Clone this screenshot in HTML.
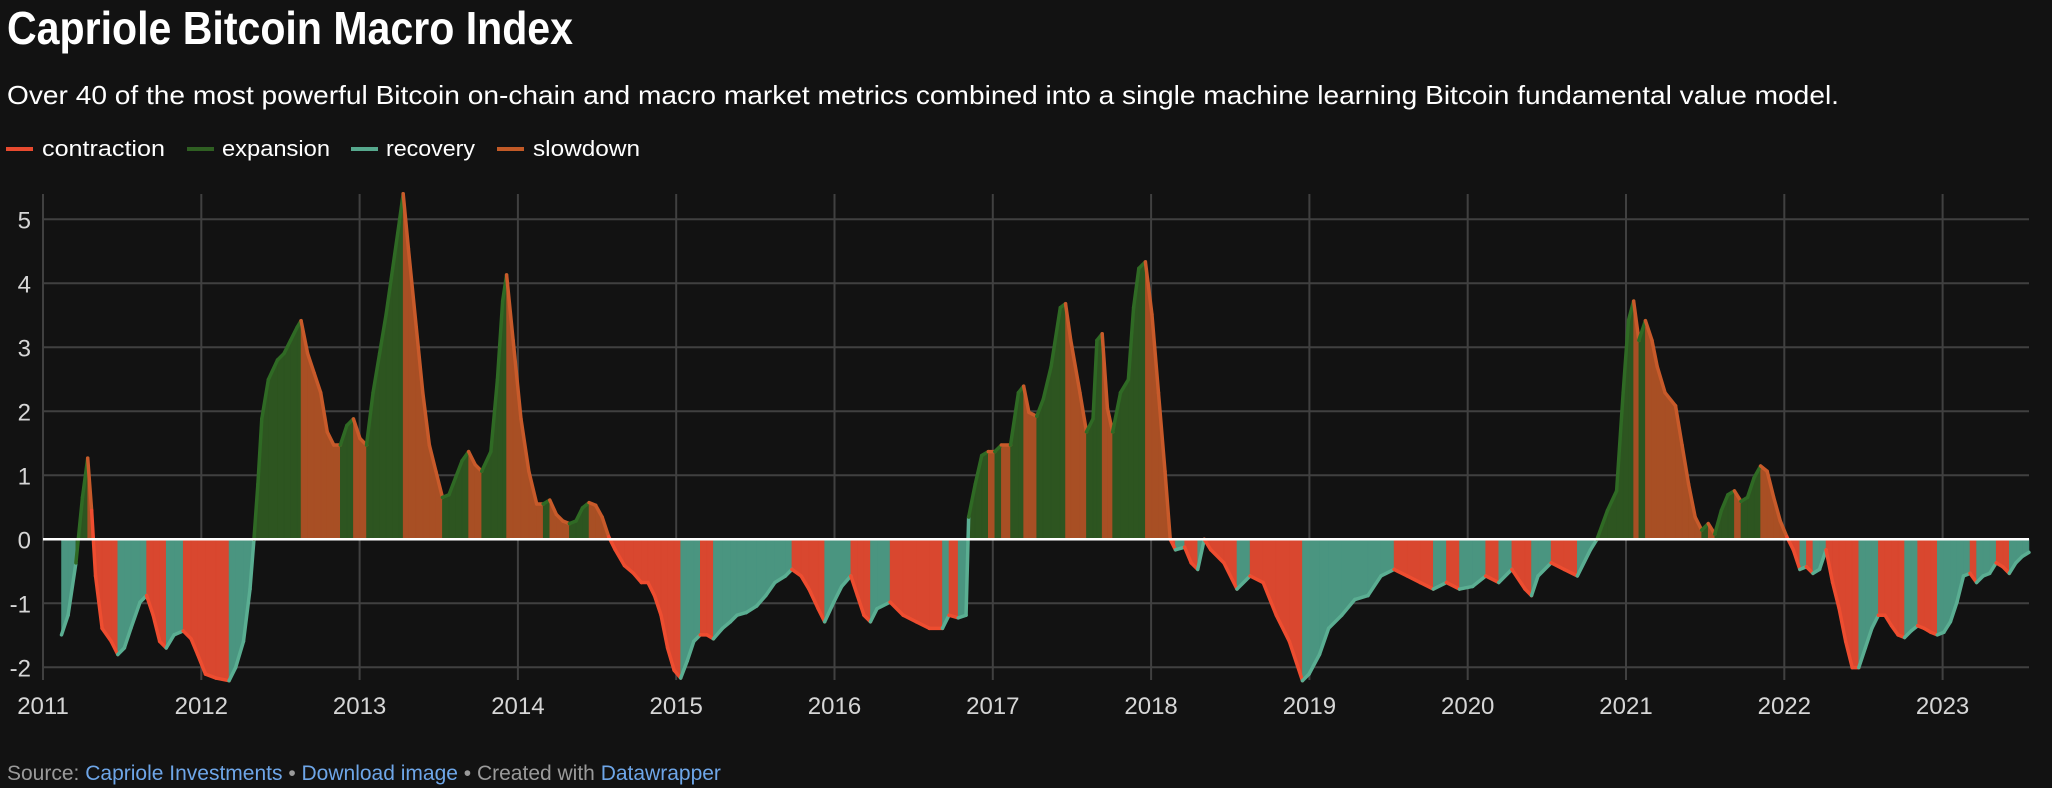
<!DOCTYPE html>
<html><head><meta charset="utf-8"><style>
html,body{margin:0;padding:0;background:#121212;}
svg{display:block;}
text{font-family:"Liberation Sans",Arial,sans-serif;}
</style></head><body>
<svg id="s" width="2052" height="788" viewBox="0 0 2052 788" xmlns="http://www.w3.org/2000/svg">
<rect width="2052" height="788" fill="#121212"/>
<text x="7" y="44" font-size="46" font-weight="bold" fill="#fff" textLength="566" lengthAdjust="spacingAndGlyphs">Capriole Bitcoin Macro Index</text>
<text x="7" y="104" font-size="26" fill="#fff" textLength="1832" lengthAdjust="spacingAndGlyphs">Over 40 of the most powerful Bitcoin on-chain and macro market metrics combined into a single machine learning Bitcoin fundamental value model.</text>
<g font-size="22" fill="#fff">
<rect x="6" y="147" width="27" height="4" fill="#e84a2f"/><text x="42" y="156" textLength="123" lengthAdjust="spacingAndGlyphs">contraction</text>
<rect x="187" y="147" width="27" height="4" fill="#2f5f22"/><text x="222" y="156" textLength="108" lengthAdjust="spacingAndGlyphs">expansion</text>
<rect x="351" y="147" width="27" height="4" fill="#56a88d"/><text x="386" y="156" textLength="89" lengthAdjust="spacingAndGlyphs">recovery</text>
<rect x="497" y="147" width="27" height="4" fill="#c25a27"/><text x="533" y="156" textLength="107" lengthAdjust="spacingAndGlyphs">slowdown</text>
</g>
<g id="grid" stroke="#404040" stroke-width="2"></g>
<g id="labels" font-size="24" fill="#d6d6d6"></g>
<g id="data"></g>
<line x1="43" y1="539.3" x2="2029" y2="539.3" stroke="#fff" stroke-width="2.5"/>
<text x="7" y="780" font-size="21" fill="#9a9a9a">Source: <tspan fill="#6ea6e8">Capriole Investments</tspan> • <tspan fill="#6ea6e8">Download image</tspan> • Created with <tspan fill="#6ea6e8">Datawrapper</tspan></text>
</svg>
<script>
(function(){
var NS="http://www.w3.org/2000/svg";
function el(t,a,p){var e=document.createElementNS(NS,t);for(var k in a)e.setAttribute(k,a[k]);p.appendChild(e);return e;}
var grid=document.getElementById('grid'),lab=document.getElementById('labels'),dat=document.getElementById('data');
var zero=539.3,unit=64.0,top=194,bot=680,left=43,right=2029;
for(var v=-2;v<=5;v++){var y=zero-v*unit;if(v!==0)el('line',{x1:left,y1:y,x2:right,y2:y},grid);
 var t=el('text',{x:31,y:y+9,'text-anchor':'end'},lab);t.textContent=(v<0?'-':'')+Math.abs(v);}
for(var i=0;i<=12;i++){var x=left+i*158.3;el('line',{x1:x,y1:top,x2:x,y2:bot},grid);
 var t=el('text',{x:x,y:714,'text-anchor':'middle'},lab);t.textContent=2011+i;}
var P=[[47,485],[52,470],[58,430],[63,380],[67,350],[70,390],[73,440],[78,480],[85,490],[90,500],[95,495],[100,480],[107,460],[112,455],[117,470],[122,490],[127,495],[133,485],[140,482],[146,488],[151,500],[157,515],[165,518],[175,520],[180,510],[186,490],[191,450],[194,412],[197,370],[200,320],[205,290],[212,275],[217,270],[222,260],[227,250],[230,245],[235,270],[240,285],[245,300],[250,330],[255,340],[260,340],[265,325],[270,320],[275,335],[280,340],[285,300],[290,270],[295,240],[300,205],[305,170],[308,148],[312,190],[318,250],[323,300],[328,340],[333,360],[338,380],[343,378],[348,365],[353,352],[358,345],[363,355],[368,360],[375,345],[380,290],[384,230],[387,210],[392,260],[398,320],[404,360],[410,385],[415,385],[420,382],[425,393],[430,398],[435,400],[440,398],[445,388],[450,384],[455,386],[460,395],[465,410],[470,420],[477,432],[484,438],[490,445],[495,445],[500,455],[505,470],[510,495],[515,512],[520,518],[525,505],[530,490],[535,485],[540,485],[545,488],[552,480],[558,475],[563,470],[570,468],[578,463],[585,455],[592,445],[600,440],[605,435],[612,440],[618,450],[625,465],[630,475],[637,460],[643,448],[650,440],[655,455],[660,470],[665,475],[670,465],[680,460],[690,470],[700,475],[710,480],[720,480],[725,470],[732,472],[738,470],[740,395],[745,370],[750,348],[755,345],[760,345],[765,340],[772,340],[778,300],[782,295],[786,315],[792,318],[797,305],[803,280],[810,235],[814,232],[818,260],[825,300],[830,330],[835,320],[838,260],[842,255],[846,312],[850,330],[856,300],[862,290],[866,235],[870,205],[875,200],[880,240],[885,300],[890,360],[894,412],[898,420],[905,418],[910,430],[915,435],[920,412],[925,420],[935,430],[945,450],[955,440],[965,445],[975,470],[985,490],[995,520],[1000,515],[1008,500],[1015,480],[1025,470],[1035,458],[1045,455],[1055,440],[1065,435],[1075,440],[1085,445],[1095,450],[1105,445],[1115,450],[1125,448],[1135,440],[1145,445],[1155,435],[1165,450],[1170,455],[1175,440],[1185,430],[1195,435],[1205,440],[1215,420],[1220,412],[1228,390],[1235,375],[1240,300],[1244,245],[1248,230],[1252,260],[1257,245],[1262,260],[1266,280],[1272,300],[1280,310],[1285,340],[1290,370],[1295,395],[1300,405],[1305,400],[1310,408],[1315,390],[1320,378],[1325,375],[1330,383],[1335,380],[1340,365],[1345,356],[1350,360],[1355,380],[1360,398],[1365,410],[1370,420],[1375,435],[1380,433],[1385,438],[1390,435],[1395,420],[1400,445],[1405,465],[1410,490],[1415,510],[1420,510],[1425,495],[1430,480],[1435,470],[1440,470],[1445,478],[1450,485],[1455,487],[1460,482],[1465,478],[1470,480],[1475,483],[1480,485],[1485,483],[1490,475],[1495,460],[1500,440],[1505,438],[1510,445],[1515,440],[1520,438],[1525,430],[1530,433],[1535,438],[1540,430],[1545,425],[1550,422]];
var S=1.309;
var C={exp:['#2d5520','#2f6a24'],slo:['#a84f24','#c85a2a'],con:['#d9472f','#ee4d30'],rec:['#4a9580','#5aae92']};
var lines=[];
for(var i=0;i<P.length-1;i++){
 var x1=P[i][0]*S,y1=P[i][1]*S,x2=P[i+1][0]*S,y2=P[i+1][1]*S;
 var mid=(y1+y2)/2, pos=mid<zero, rising=y2<y1;
 var k=pos?(rising?'exp':'slo'):(rising?'rec':'con');
 el('polygon',{points:x1+','+zero+' '+x1+','+y1+' '+x2+','+y2+' '+x2+','+zero,fill:C[k][0],stroke:C[k][0],'stroke-width':0.6},dat);
 lines.push([x1,y1,x2,y2,C[k][1]]);
}
lines.forEach(function(l){el('line',{x1:l[0],y1:l[1],x2:l[2],y2:l[3],stroke:l[4],'stroke-width':3.5,'stroke-linecap':'round'},dat);});
})();
</script>
</body></html>
